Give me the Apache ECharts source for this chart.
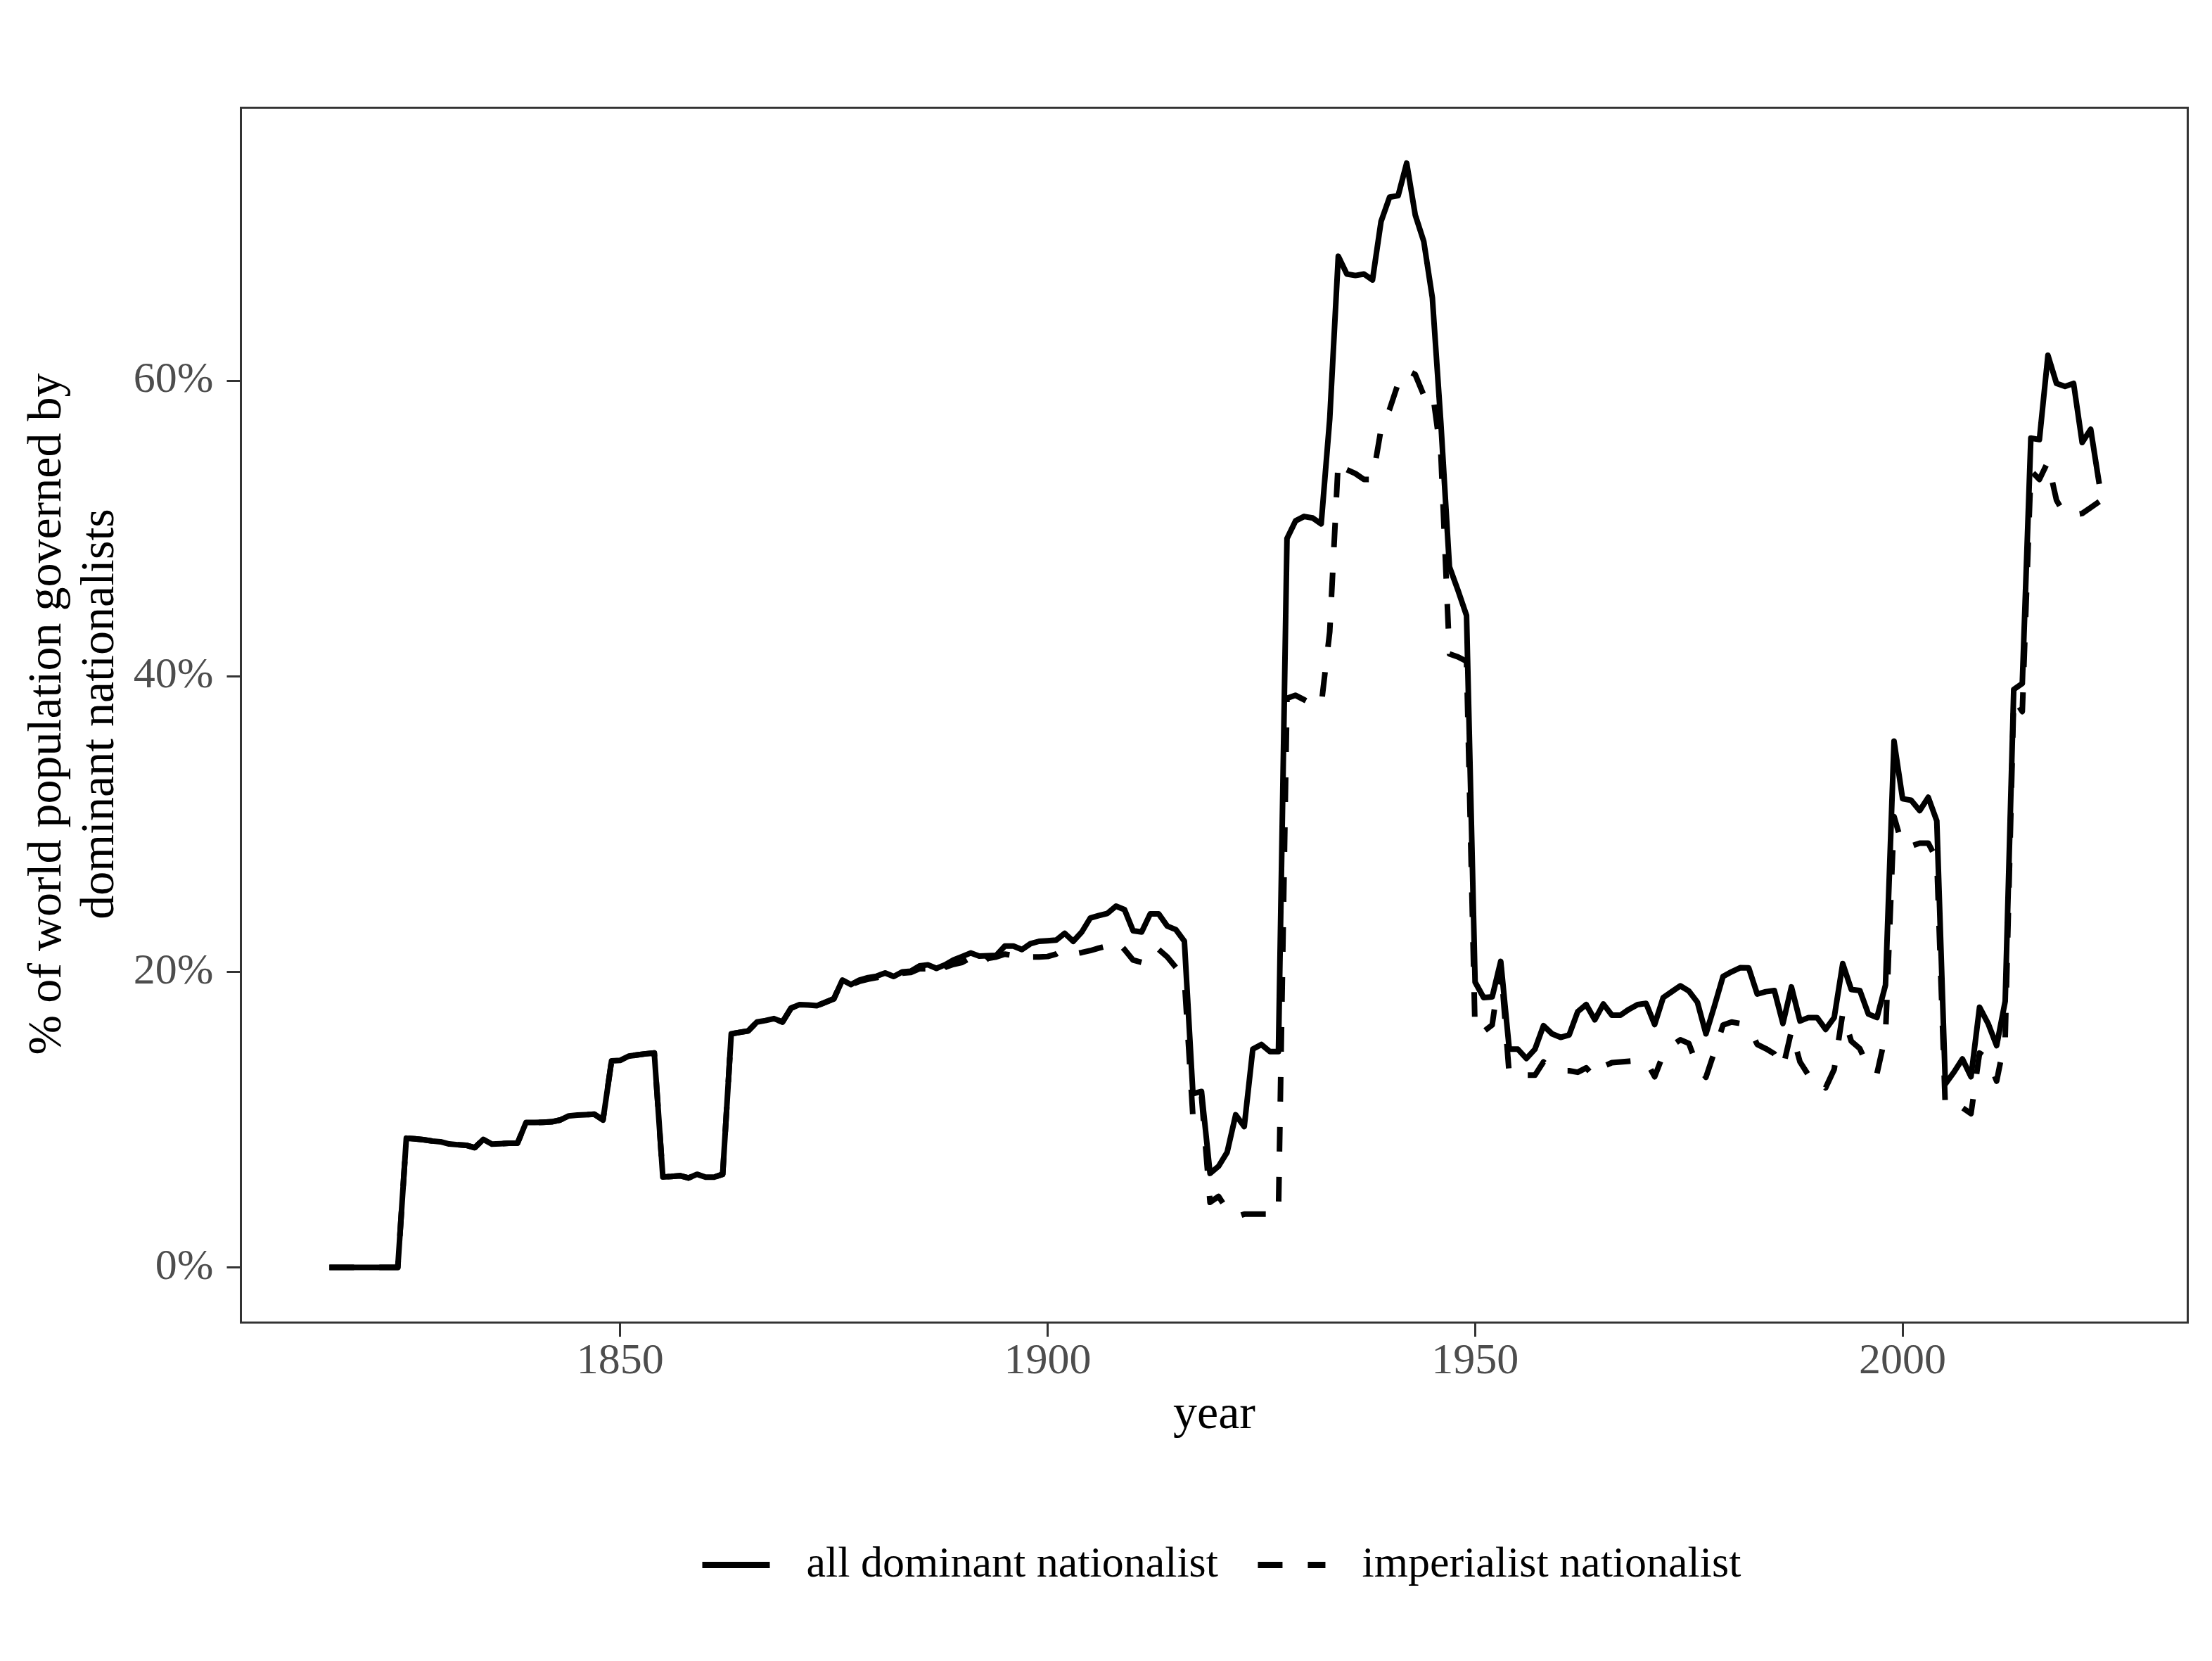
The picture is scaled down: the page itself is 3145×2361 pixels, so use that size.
<!DOCTYPE html>
<html>
<head>
<meta charset="utf-8">
<script src="https://cdn.jsdelivr.net/npm/echarts@6/dist/echarts.min.js"></script>
<style>
  html, body { margin: 0; padding: 0; background: #ffffff; }
  #chart { width: 3145px; height: 2361px; }
</style>
</head>
<body>
<div id="chart"></div>
<script>
// ---- data ----
const firstYear = 1816;

const seriesNames = ['all dominant nationalist', 'imperialist nationalist'];

// % of world population governed by all dominant nationalists, 1816..2023
const allDominant = [
  0, 0, 0, 0, 0, 0, 0, 0, 0,                       // 1816-1824
  8.74, 8.7, 8.64, 8.55, 8.5, 8.35, 8.3, 8.26, 8.1, 8.66,   // 1825-1834
  8.34, 8.37, 8.4, 8.4, 9.8, 9.8, 9.82, 9.85, 9.97, 10.25,  // 1835-1844
  10.3, 10.33, 10.36, 9.97, 13.97, 14.0, 14.29, 14.37, 14.45, 14.5, // 1845-1854
  6.12, 6.15, 6.2, 6.05, 6.3, 6.1, 6.1, 6.3, 15.8, 15.9,    // 1855-1864
  16.0, 16.6, 16.7, 16.83, 16.6, 17.54, 17.78, 17.75, 17.7, 17.93, // 1865-1874
  18.17, 19.44, 19.13, 19.44, 19.6, 19.7, 19.92, 19.68, 19.99, 20.04, // 1875-1884
  20.39, 20.47, 20.23, 20.47, 20.8, 21.03, 21.27, 21.06, 21.08, 21.11, // 1885-1894
  21.74, 21.74, 21.5, 21.9, 22.06, 22.1, 22.14, 22.6, 22.06, 22.69,  // 1895-1904
  23.64, 23.8, 23.95, 24.44, 24.2, 22.77, 22.69, 23.91, 23.91, 23.09, // 1905-1914
  22.85, 22.06, 11.75, 11.9, 6.36, 6.84, 7.79, 10.32, 9.53, 14.76,   // 1915-1924
  15.08, 14.6, 14.6, 49.3, 50.5, 50.8, 50.7, 50.3, 57.4, 68.4,       // 1925-1934
  67.2, 67.1, 67.2, 66.8, 70.75, 72.4, 72.5, 74.7, 71.2, 69.4,       // 1935-1944
  65.6, 57.1, 47.4, 45.8, 44.1, 19.3, 18.25, 18.3, 20.7, 14.76,      // 1945-1954
  14.76, 14.13, 14.76, 16.35, 15.8, 15.56, 15.72, 17.3, 17.78, 16.75, // 1955-1964
  17.82, 17.06, 17.06, 17.46, 17.78, 17.86, 16.43, 18.25, 18.65, 19.05, // 1965-1974
  18.7, 17.94, 15.8, 17.7, 19.68, 20.0, 20.27, 20.26, 18.49, 18.65,   // 1975-1984
  18.73, 16.5, 18.97, 16.67, 16.9, 16.9, 16.1, 16.9, 20.55, 18.8,     // 1985-1994
  18.73, 17.14, 16.9, 19.1, 35.6, 31.7, 31.6, 30.9, 31.8, 30.2,       // 1995-2004
  12.4, 13.2, 14.1, 12.9, 17.6, 16.5, 15.0, 18.0, 39.1, 39.5,         // 2005-2014
  56.1, 56.0, 61.7, 59.8, 59.6, 59.8, 55.8, 56.7, 53.0                // 2015-2023
];

// % of world population governed by imperialist nationalists, 1816..2023
const imperialist = [
  0, 0, 0, 0, 0, 0, 0, 0, 0,                       // 1816-1824
  8.74, 8.7, 8.64, 8.55, 8.5, 8.35, 8.3, 8.26, 8.1, 8.66,   // 1825-1834
  8.34, 8.37, 8.4, 8.4, 9.8, 9.8, 9.82, 9.85, 9.97, 10.25,  // 1835-1844
  10.3, 10.33, 10.36, 9.97, 13.97, 14.0, 14.29, 14.37, 14.45, 14.5, // 1845-1854
  6.12, 6.15, 6.2, 6.05, 6.3, 6.1, 6.1, 6.3, 15.8, 15.9,    // 1855-1864
  16.0, 16.6, 16.7, 16.83, 16.6, 17.54, 17.78, 17.75, 17.7, 17.93, // 1865-1874
  18.17, 19.44, 19.13, 19.35, 19.5, 19.6, 19.8, 19.6, 19.9, 19.95, // 1875-1884
  20.2, 20.2, 19.68, 20.3, 20.5, 20.63, 20.95, 20.39, 20.9, 21.0,  // 1885-1894
  21.19, 21.1, 20.79, 21.0, 21.0, 21.03, 21.2, 21.58, 21.19, 21.3, // 1895-1904
  21.43, 21.6, 21.74, 22.14, 21.5, 20.79, 20.63, 21.58, 21.5, 21.0, // 1905-1914
  20.3, 19.5, 10.2, 11.6, 4.4, 4.8, 3.9, 3.4, 3.6, 3.6,            // 1915-1924
  3.6, 3.6, 3.6, 38.5, 38.7, 38.4, 38.1, 38.0, 43.0, 54.6,         // 1925-1934
  53.96, 53.7, 53.3, 53.3, 56.7, 58.05, 59.8, 60.7, 60.4, 59.0,    // 1935-1944
  59.3, 55.0, 41.5, 41.3, 41.0, 15.95, 15.95, 16.4, 20.5, 13.0,    // 1945-1954
  13.0, 13.0, 13.0, 13.9, 13.4, 13.3, 13.3, 13.2, 13.5, 12.86,     // 1955-1964
  13.6, 13.85, 13.9, 13.95, 14.0, 13.97, 12.9, 14.4, 15.0, 15.4,   // 1965-1974
  15.15, 13.6, 12.86, 14.6, 16.4, 16.6, 16.5, 16.3, 15.08, 14.8,   // 1975-1984
  14.45, 13.5, 16.0, 13.9, 13.0, 13.0, 12.15, 13.4, 17.2, 15.3,    // 1985-1994
  14.8, 13.5, 13.1, 15.7, 30.5, 28.5, 28.5, 28.7, 28.7, 27.6,      // 1995-2004
  10.8, 10.8, 10.8, 10.4, 14.5, 14.1, 12.6, 15.5, 38.5, 37.6,      // 2005-2014
  53.9, 53.3, 54.5, 51.9, 50.9, 50.9, 51.0, 51.4, 51.8             // 2015-2023
];

// tick labels
const xTicks = [1850, 1900, 1950, 2000];
const yTicks = [0, 20, 40, 60];

const xTitle = 'year';
const yTitle = '% of world population governed by\ndominant nationalists';

// ---- build ----
const years = allDominant.map((_, i) => firstYear + i);
const solidData = years.map((y, i) => [y, allDominant[i]]);
const dashData = years.map((y, i) => [y, imperialist[i]]);

const FONT = '"Liberation Serif", "Times New Roman", "DejaVu Serif", serif';

// panel (data grid) geometry and axis ranges
const X_MIN = 1805.65, X_MAX = 2033.35;
const Y_MIN = -3.735, Y_MAX = 78.44;
const gridLeft = 342.5, gridTop = 153.3, gridW = 2768, gridH = 1726.7;
const gridBottomY = gridTop + gridH;
const pxX = v => gridLeft + (v - X_MIN) / (X_MAX - X_MIN) * gridW;
const pxY = v => gridTop + (Y_MAX - v) / (Y_MAX - Y_MIN) * gridH;

// tick-only grids aligned with the data grid; the cross axis puts its zero on the
// panel edge (onZero), and the grid reaches just past the outward ticks
const xT0 = xTicks[0], xT1 = xTicks[xTicks.length - 1];
const yT0 = yTicks[0], yT1 = yTicks[yTicks.length - 1];
const IN = 40, OUT = 22;   // grid extent inside / outside the panel edge
const xTickGrid = { left: pxX(xT0), width: pxX(xT1) - pxX(xT0), top: gridBottomY - IN, height: IN + OUT };
const yTickGrid = { left: gridLeft - OUT, width: IN + OUT, top: pxY(yT1), height: pxY(yT0) - pxY(yT1) };

const tickLine = { color: '#333333', width: 3 };
const tickLabel = { color: '#4D4D4D', fontFamily: FONT, fontSize: 62 };

const chart = echarts.init(document.getElementById('chart'), null, { renderer: 'canvas' });

chart.setOption({
  backgroundColor: '#ffffff',
  animation: false,
  grid: [
    { left: gridLeft, top: gridTop, width: gridW, height: gridH,
      show: true, borderColor: '#333333', borderWidth: 3, backgroundColor: 'transparent' },
    Object.assign({ show: false }, xTickGrid),
    Object.assign({ show: false }, yTickGrid)
  ],
  xAxis: [
    { gridIndex: 0, type: 'value', min: X_MIN, max: X_MAX,
      axisLine: { show: false }, axisTick: { show: false }, axisLabel: { show: false },
      splitLine: { show: false } },
    { gridIndex: 1, type: 'value', position: 'bottom', min: xT0, max: xT1, interval: 50,
      axisLine: { show: false, onZero: true },
      axisTick: { show: true, length: 20, inside: false, lineStyle: tickLine },
      axisLabel: Object.assign({ show: true, margin: 3, showMinLabel: true, showMaxLabel: true,
        formatter: v => String(v) }, tickLabel),
      splitLine: { show: false } },
    { gridIndex: 2, type: 'value', min: -OUT, max: IN,
      axisLine: { show: false }, axisTick: { show: false }, axisLabel: { show: false },
      splitLine: { show: false } }
  ],
  yAxis: [
    { gridIndex: 0, type: 'value', min: Y_MIN, max: Y_MAX,
      axisLine: { show: false }, axisTick: { show: false }, axisLabel: { show: false },
      splitLine: { show: false } },
    { gridIndex: 1, type: 'value', min: -OUT, max: IN,
      axisLine: { show: false }, axisTick: { show: false }, axisLabel: { show: false },
      splitLine: { show: false } },
    { gridIndex: 2, type: 'value', position: 'left', min: yT0, max: yT1, interval: 20,
      axisLine: { show: false, onZero: true },
      axisTick: { show: true, length: 20, inside: false, lineStyle: tickLine },
      axisLabel: Object.assign({ show: true, margin: 17, showMinLabel: true, showMaxLabel: true,
        formatter: v => v + '%' }, tickLabel),
      splitLine: { show: false } }
  ],
  legend: {
    show: true,
    orient: 'horizontal',
    left: 994, top: 2193.5,
    itemWidth: 96, itemHeight: 62,
    itemGap: 52,
    padding: 0,
    data: seriesNames,
    itemStyle: { opacity: 0 },
    lineStyle: { width: 9 },
    textStyle: { fontFamily: FONT, fontSize: 62, color: '#000000', padding: [0, 0, 0, 47] }
  },
  series: [
    {
      name: seriesNames[0],
      type: 'line',
      xAxisIndex: 0, yAxisIndex: 0,
      data: solidData,
      showSymbol: false, symbol: 'none',
      lineStyle: { color: '#000000', width: 8, type: 'solid', cap: 'butt', join: 'round' },
      itemStyle: { color: '#000000' },
      z: 3
    },
    {
      name: seriesNames[1],
      type: 'line',
      xAxisIndex: 0, yAxisIndex: 0,
      data: dashData,
      showSymbol: false, symbol: 'none',
      lineStyle: { color: '#000000', width: 8, type: [35, 36], cap: 'butt', join: 'round' },
      itemStyle: { color: '#000000' },
      z: 2
    }
  ],
  graphic: [
    {
      type: 'text',
      x: 1726.5, y: 2012,
      style: { text: xTitle, fill: '#000000', font: '68px ' + FONT,
        textAlign: 'center', textVerticalAlign: 'middle' }
    },
    {
      type: 'text',
      x: 105.5, y: 1015,
      rotation: Math.PI / 2,
      style: { text: yTitle, fill: '#000000', font: '68px ' + FONT,
        textAlign: 'center', textVerticalAlign: 'middle', lineHeight: 75 }
    }
  ]
});
</script>
</body>
</html>
